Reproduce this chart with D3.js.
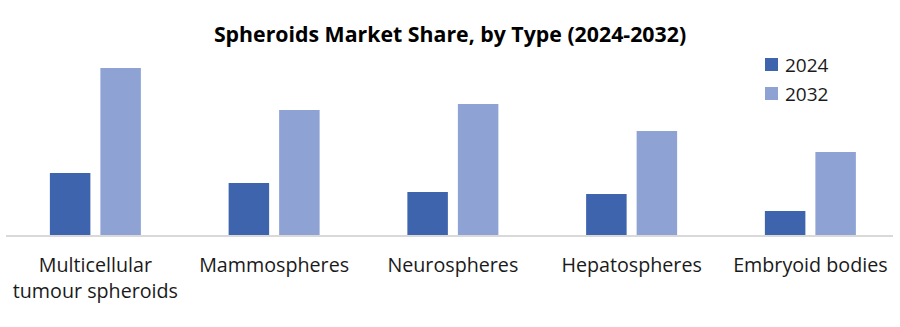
<!DOCTYPE html>
<html>
<head>
<meta charset="utf-8">
<script src="https://cdn.jsdelivr.net/npm/d3@7"></script>
<style>
  html, body { margin: 0; padding: 0; background: #fff; }
  svg { display: block; }
</style>
</head>
<body>
<svg id="chart" width="900" height="327"></svg>
<script>
// Spheroid types shown along the x axis
const categories = [
  ["Multicellular", "tumour spheroids"],
  ["Mammospheres"],
  ["Neurospheres"],
  ["Hepatospheres"],
  ["Embryoid bodies"]
];
const seriesNames = ["2024", "2032"];
const values2024 = [6.2, 5.2, 4.3, 4.1, 2.4];
const values2032 = [16.7, 12.5, 13.1, 10.4, 8.3];
const colors = ["#3D64AD", "#8EA3D4"];

const svg = d3.select("#chart");
const left = 6, right = 899.75, baseY = 235, topY = 35;

const x0 = d3.scaleBand()
  .domain(d3.range(categories.length))
  .range([left, right])
  .padding(0);

const pairW = 91;
const x1 = d3.scaleBand()
  .domain(seriesNames)
  .range([(x0.bandwidth() - pairW) / 2, (x0.bandwidth() + pairW) / 2])
  .paddingInner(0.198);

const y = d3.scaleLinear().domain([0, 20]).range([baseY, topY]);

const series = [values2024, values2032];

// Bars
const groups = svg.append("g").selectAll("g")
  .data(categories.map((c, i) => i))
  .join("g")
  .attr("transform", i => `translate(${x0(i)},0)`);

groups.selectAll("rect")
  .data(i => seriesNames.map((s, k) => ({ s, k, v: series[k][i] })))
  .join("rect")
  .attr("x", d => x1(d.s))
  .attr("width", x1.bandwidth())
  .attr("y", d => y(d.v))
  .attr("height", d => y(0) - y(d.v))
  .attr("fill", d => colors[d.k]);

// Baseline
svg.append("line")
  .attr("x1", 6).attr("x2", 893)
  .attr("y1", baseY + 1).attr("y2", baseY + 1)
  .attr("stroke", "#D9D9D9").attr("stroke-width", 2);

// Category labels
const font = "'Open Sans', Lato, sans-serif";
categories.forEach((lines, i) => {
  const cx = x0(i) + x0.bandwidth() / 2;
  const t = svg.append("text")
    .attr("x", cx).attr("y", 272)
    .attr("text-anchor", "middle")
    .attr("font-family", font)
    .attr("font-size", 19.7)
    .attr("fill", "#1a1a1a");
  lines.forEach((ln, j) => {
    t.append("tspan").attr("x", cx).attr("dy", j === 0 ? 0 : 26).text(ln);
  });
});

// Title
svg.append("text")
  .attr("x", 450).attr("y", 42)
  .attr("text-anchor", "middle")
  .attr("font-family", font)
  .attr("font-weight", "bold")
  .attr("font-size", 21.3)
  .attr("fill", "#000")
  .text("Spheroids Market Share, by Type (2024-2032)");

// Legend
const legend = svg.append("g").attr("transform", "translate(765,58)");
seriesNames.forEach((s, k) => {
  const g = legend.append("g").attr("transform", `translate(0,${k * 29})`);
  g.append("rect").attr("width", 13).attr("height", 13).attr("fill", colors[k]);
  g.append("text")
    .attr("x", 20).attr("y", 14)
    .attr("font-family", font)
    .attr("font-size", 19)
    .attr("fill", "#1a1a1a")
    .text(s);
});
</script>
</body>
</html>
